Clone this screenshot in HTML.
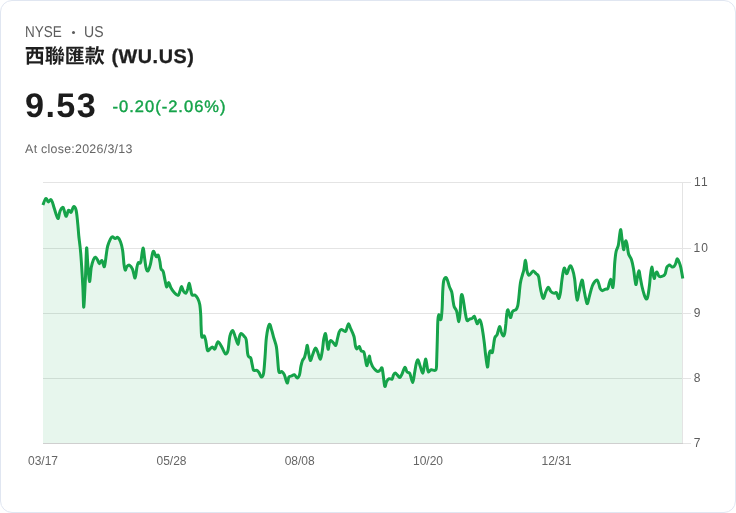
<!DOCTYPE html>
<html lang="zh-Hant">
<head>
<meta charset="utf-8">
<title>西聯匯款 (WU.US)</title>
<style>
  html,body{margin:0;padding:0;background:#fff;}
  body{width:736px;height:513px;overflow:hidden;font-family:"Liberation Sans",sans-serif;text-rendering:geometricPrecision;}
  .card{will-change:transform;position:absolute;left:0;top:0;width:734px;height:511px;border:1px solid #e0e6f1;border-radius:12px;background:#fff;overflow:hidden;}
  .abs{position:absolute;white-space:nowrap;line-height:1;}
  .market{top:23.7px;font-size:15.7px;color:#5c5c5c;transform-origin:0 0;}
  .dot{left:70.6px;top:29.6px;width:3.6px;height:3.6px;border-radius:50%;background:#5c5c5c;font-size:0;overflow:hidden;}
  .title{left:23.8px;top:43.8px;height:24px;font-size:20px;font-weight:700;color:#1f1f1f;}
  .title .cjk{position:relative;display:inline-block;width:80px;height:24px;vertical-align:top;overflow:hidden;}
  .title .cjk span{position:absolute;left:0;top:0;color:#1f1f1f;font-family:"Liberation Sans","Noto Sans CJK TC",sans-serif;font-weight:700;font-size:20px;line-height:24px;}
  .title .sym{display:inline-block;vertical-align:top;line-height:24px;margin-left:6.6px;letter-spacing:0.56px;font-size:19.8px;position:relative;top:0.4px;-webkit-text-stroke:0.3px #1f1f1f;}
  .price{left:24.1px;top:87.9px;font-size:34.2px;font-weight:700;color:#1c1c1c;letter-spacing:1.35px;}
  .chg{left:111.6px;top:97.6px;font-size:16.5px;color:#16a34a;letter-spacing:1.0px;-webkit-text-stroke:0.4px #16a34a;}
  .asof{left:24.1px;top:141.6px;font-size:12.4px;color:#666;letter-spacing:0.27px;}
  .yl{left:692.8px;font-size:12px;color:#5c5c5c;text-rendering:auto;letter-spacing:0.33px;}
  .xl{top:454px;width:60px;text-align:center;font-size:12px;color:#666;text-rendering:auto;letter-spacing:0;}
</style>
</head>
<body>
<div class="card">
  <div class="abs market" style="left:23.8px;transform:scaleX(0.86)">NYSE</div><div class="abs dot">•</div><div class="abs market" style="left:82.7px;transform:scaleX(0.895)">US</div>
  <div class="abs title"><span class="cjk"><span>西聯匯款 </span></span><span class="sym">(WU.US)</span></div>
  <div class="abs price">9.53</div>
  <div class="abs chg">-0.20(-2.06%)</div>
  <div class="abs asof">At close:2026/3/13</div>

  <svg class="abs" style="left:-1px;top:-1px" width="736" height="513" viewBox="0 0 736 513" aria-hidden="true">
    <g stroke="#e4e4e4" stroke-width="1" fill="none" shape-rendering="crispEdges">
      <line x1="43" y1="182.5" x2="690.5" y2="182.5"/>
      <line x1="43" y1="248.5" x2="690.5" y2="248.5"/>
      <line x1="43" y1="313.5" x2="690.5" y2="313.5"/>
      <line x1="43" y1="378.5" x2="690.5" y2="378.5"/>
    </g>
    <path d="M43 443.5L43 205.0L42.9 205.0C43.4 203.9 44.9 199.0 45.8 198.5C46.7 198.0 47.4 201.7 48.2 201.9C49.0 202.1 50.1 199.4 50.8 199.5C51.5 199.6 51.9 200.9 52.5 202.5C53.1 204.1 53.5 206.1 54.4 208.8C55.3 211.5 57.0 218.1 57.9 218.5C58.8 218.9 59.1 213.1 60.0 211.3C60.9 209.5 62.1 206.7 63.1 207.5C64.1 208.3 65.1 215.8 66.0 216.3C66.9 216.8 67.6 211.0 68.5 210.3C69.4 209.6 70.4 212.9 71.2 212.3C72.0 211.7 72.7 207.0 73.5 206.7C74.3 206.4 75.4 207.1 76.2 210.6C77.0 214.1 77.7 223.3 78.1 227.5C78.5 231.7 78.4 231.8 78.8 236.0C79.2 240.2 80.0 244.7 80.7 253.0C81.4 261.3 82.3 276.8 82.8 285.8C83.3 294.8 83.4 308.3 83.8 307.1C84.2 305.9 84.9 288.5 85.4 278.7C85.9 268.9 86.2 250.5 86.6 248.1C87.0 245.7 87.3 258.8 87.8 264.4C88.3 270.0 88.9 281.0 89.5 281.5C90.1 282.0 90.6 271.0 91.3 267.3C92.0 263.6 92.8 261.2 93.5 259.5C94.2 257.8 94.9 257.2 95.6 257.3C96.3 257.4 97.1 259.1 97.7 260.2C98.3 261.3 98.7 263.6 99.4 263.7C100.1 263.8 101.2 260.0 102.0 260.5C102.8 261.0 103.7 267.6 104.4 266.6C105.1 265.6 105.8 257.9 106.3 254.5C106.8 251.1 107.0 248.6 107.7 246.0C108.4 243.4 109.7 240.4 110.5 238.8C111.3 237.2 111.6 236.7 112.4 236.7C113.2 236.7 114.3 238.5 115.2 238.6C116.1 238.7 116.7 236.9 117.6 237.4C118.5 237.9 119.7 239.6 120.5 241.7C121.3 243.8 122.0 246.4 122.6 250.2C123.2 254.0 123.6 261.1 124.0 264.4C124.4 267.7 124.7 269.7 125.2 270.1C125.7 270.5 126.2 267.4 126.9 266.6C127.6 265.8 128.6 264.7 129.5 265.2C130.4 265.7 131.7 267.3 132.6 269.4C133.5 271.5 134.4 278.4 135.1 278.0C135.8 277.6 136.4 269.9 136.9 267.3C137.4 264.8 137.7 263.5 138.3 262.7C138.9 261.9 139.9 264.7 140.7 262.3C141.5 259.9 142.3 248.7 143.0 248.1C143.7 247.5 144.2 255.5 144.7 258.8C145.2 262.1 145.5 266.0 146.1 268.0C146.7 270.0 147.3 271.5 148.0 270.9C148.7 270.3 149.5 267.6 150.4 264.4C151.3 261.1 152.2 252.7 153.2 251.4C154.1 250.1 155.3 256.0 156.1 256.6C156.9 257.2 157.6 254.4 158.2 255.2C158.8 256.0 159.4 259.4 159.9 261.6C160.4 263.9 160.4 267.0 161.0 268.7C161.6 270.4 162.5 269.7 163.2 271.6C163.9 273.5 164.4 277.6 165.0 280.1C165.6 282.7 166.0 286.5 166.6 286.9C167.2 287.3 168.0 282.2 168.7 282.4C169.4 282.5 170.0 286.1 170.9 287.8C171.8 289.5 173.0 291.3 174.2 292.6C175.4 293.9 177.2 295.6 178.2 295.4C179.1 295.2 179.3 292.7 179.9 291.2C180.5 289.7 181.0 286.5 181.6 286.5C182.2 286.5 182.8 290.1 183.5 291.2C184.2 292.3 185.2 293.7 185.9 293.3C186.6 292.9 187.1 290.7 187.7 289.0C188.2 287.3 188.7 283.3 189.2 283.3C189.7 283.3 190.1 287.1 190.6 289.0C191.1 290.9 191.3 294.0 192.0 295.0C192.7 296.0 194.0 294.4 194.9 295.0C195.8 295.6 196.9 296.7 197.7 298.3C198.5 299.9 199.3 301.7 199.8 304.7C200.3 307.7 200.6 312.5 200.8 316.1C201.0 319.7 200.9 322.7 201.1 326.2C201.3 329.7 201.3 335.3 201.8 336.9C202.3 338.5 203.5 335.3 204.2 335.9C204.8 336.5 205.1 338.0 205.7 340.4C206.2 342.8 206.8 349.0 207.5 350.4C208.2 351.8 209.1 349.6 209.9 349.0C210.7 348.4 211.6 346.9 212.4 346.9C213.2 346.9 214.0 349.8 214.9 349.0C215.8 348.2 216.7 342.4 217.8 341.9C218.9 341.4 220.4 344.7 221.3 346.1C222.2 347.5 222.7 349.1 223.4 350.4C224.1 351.7 224.8 354.0 225.6 354.0C226.4 354.0 227.3 353.4 228.0 350.4C228.7 347.4 229.1 339.5 229.9 336.2C230.7 332.9 231.8 330.3 232.7 330.5C233.6 330.7 234.6 335.3 235.5 337.6C236.4 339.9 237.3 344.5 238.0 344.4C238.7 344.3 238.9 338.7 239.4 336.9C239.9 335.1 240.4 333.7 241.2 333.6C242.0 333.5 243.3 335.2 244.1 336.2C244.9 337.2 245.6 336.8 246.2 339.7C246.8 342.6 247.2 350.4 247.6 353.3C248.0 356.2 248.3 356.0 248.8 356.8C249.3 357.6 250.2 356.9 250.8 358.2C251.4 359.5 251.7 362.6 252.2 364.6C252.7 366.6 252.8 369.4 253.6 370.3C254.4 371.2 256.0 369.9 256.9 370.3C257.8 370.7 258.2 371.4 259.0 372.5C259.8 373.6 260.6 377.0 261.4 377.1C262.2 377.2 263.0 376.5 263.6 373.2C264.2 369.9 264.5 363.4 265.0 357.5C265.5 351.6 265.7 343.1 266.4 337.6C267.1 332.1 268.4 325.7 269.3 324.5C270.2 323.3 271.0 328.2 271.8 330.5C272.6 332.8 273.1 335.6 273.9 338.3C274.7 341.0 275.8 343.7 276.4 346.9C277.0 350.1 277.1 353.4 277.5 357.5C277.9 361.6 278.2 369.4 278.9 371.7C279.6 374.0 280.9 371.0 281.8 371.5C282.7 372.0 283.4 372.7 284.3 374.6C285.2 376.5 286.4 382.6 287.2 383.0C288.0 383.4 288.2 378.2 288.9 377.0C289.6 375.8 290.6 376.4 291.5 376.0C292.4 375.6 293.4 374.5 294.4 374.8C295.4 375.1 296.4 378.0 297.3 378.0C298.2 378.0 298.9 376.8 299.5 374.9C300.1 373.0 300.4 368.8 300.9 366.4C301.4 364.0 301.8 362.2 302.4 360.7C303.0 359.1 304.0 358.8 304.6 357.1C305.2 355.4 305.7 352.7 306.1 350.7C306.6 348.7 306.9 345.1 307.3 345.3C307.7 345.5 308.0 349.6 308.5 352.1C309.0 354.6 309.7 359.8 310.3 360.4C310.9 361.0 311.5 357.7 312.3 355.7C313.1 353.7 314.4 348.8 315.3 348.2C316.2 347.6 316.9 350.2 317.7 352.1C318.5 354.0 319.5 359.5 320.3 359.3C321.1 359.1 321.7 354.0 322.3 350.7C322.9 347.4 323.2 342.1 323.7 339.3C324.2 336.5 325.0 333.4 325.5 333.6C326.0 333.9 326.3 338.2 326.7 340.8C327.1 343.4 327.7 349.0 328.1 349.3C328.6 349.6 328.9 344.4 329.4 342.9C329.8 341.4 330.1 340.5 330.8 340.5C331.5 340.5 332.6 342.1 333.4 342.9C334.2 343.7 335.1 345.9 335.8 345.3C336.5 344.7 336.8 341.5 337.3 339.3C337.9 337.1 338.5 333.9 339.1 332.2C339.8 330.5 340.1 329.5 341.2 329.4C342.3 329.3 344.6 331.7 345.5 331.5C346.4 331.3 346.4 329.3 346.9 328.0C347.4 326.7 348.0 323.7 348.6 323.7C349.2 323.7 349.5 325.9 350.4 328.0C351.3 330.1 353.2 333.6 354.0 336.5C354.8 339.4 354.9 343.6 355.4 345.7C355.9 347.8 356.1 348.9 356.8 349.0C357.5 349.1 358.6 346.1 359.3 346.4C360.0 346.7 360.3 349.8 361.1 350.7C361.9 351.6 363.2 350.7 363.9 352.1C364.6 353.5 364.9 357.0 365.4 359.3C365.9 361.6 366.3 365.5 366.8 365.7C367.3 365.9 367.8 362.3 368.2 360.7C368.6 359.1 369.0 356.1 369.4 356.1C369.8 356.1 369.8 359.0 370.3 360.7C370.8 362.4 371.7 364.9 372.5 366.4C373.3 367.9 374.4 369.0 375.3 369.9C376.2 370.8 376.9 371.5 377.7 371.5C378.5 371.5 379.6 370.5 380.3 369.9C381.0 369.3 381.5 367.0 382.0 367.8C382.5 368.6 382.7 371.8 383.2 374.9C383.7 378.0 384.2 385.1 384.8 386.3C385.4 387.5 385.8 383.1 386.5 381.8C387.2 380.5 388.2 379.1 389.1 378.7C390.0 378.2 391.4 379.8 392.1 379.1C392.8 378.5 393.0 375.8 393.5 374.8C394.0 373.8 394.5 373.0 395.2 373.1C395.9 373.2 397.0 374.8 397.8 375.5C398.6 376.2 399.2 377.8 399.9 377.6C400.6 377.4 401.2 375.8 402.0 374.1C402.8 372.4 404.1 367.8 404.9 367.4C405.7 367.0 406.2 370.9 407.0 371.9C407.8 372.9 408.9 371.8 409.9 373.6C410.8 375.4 411.9 382.6 412.7 382.6C413.5 382.6 413.9 376.6 414.5 373.4C415.1 370.2 415.7 365.6 416.3 363.4C416.9 361.1 417.5 359.4 418.1 359.9C418.8 360.4 419.4 364.1 420.2 366.3C421.0 368.5 422.2 373.4 422.9 373.1C423.6 372.9 423.9 367.1 424.4 364.8C424.9 362.5 425.4 358.9 425.8 359.1C426.2 359.4 426.7 364.2 427.1 366.3C427.5 368.4 427.6 371.3 428.3 371.9C429.0 372.5 429.9 370.1 431.2 369.8C432.5 369.5 435.0 371.4 435.9 369.8C436.8 368.2 436.5 365.0 436.7 360.0C436.9 355.0 437.1 346.7 437.3 340.0C437.5 333.3 437.6 324.2 437.9 320.0C438.1 315.8 438.3 314.7 438.8 314.6C439.3 314.5 440.3 320.6 440.9 319.6C441.4 318.7 441.8 313.8 442.1 308.9C442.4 304.0 442.5 295.1 442.8 290.4C443.1 285.7 443.2 282.6 443.8 280.5C444.4 278.4 445.4 277.5 446.1 277.6C446.8 277.7 447.2 279.6 447.8 281.2C448.4 282.8 448.9 285.1 449.5 286.9C450.1 288.7 451.1 289.6 451.7 291.9C452.3 294.1 452.6 297.9 453.0 300.4C453.4 302.9 453.6 305.0 454.2 306.8C454.8 308.6 455.8 308.6 456.6 311.1C457.4 313.6 458.3 321.8 458.9 321.6C459.5 321.4 459.9 314.0 460.3 310.0C460.7 306.0 460.7 300.2 461.0 297.6C461.3 295.1 461.6 294.2 462.0 294.7C462.4 295.2 462.9 297.5 463.4 300.4C463.9 303.2 464.5 308.5 465.1 311.8C465.7 315.1 466.2 319.1 467.0 320.3C467.8 321.5 468.9 319.3 469.8 319.0C470.7 318.7 471.4 318.8 472.2 318.3C472.9 317.8 473.7 315.9 474.3 316.2C474.9 316.5 475.4 319.1 475.9 320.4C476.4 321.7 476.7 323.9 477.3 323.8C477.9 323.7 478.9 319.7 479.6 319.7C480.3 319.7 480.9 321.9 481.4 324.0C481.9 326.1 482.3 329.0 482.8 332.0C483.3 335.0 483.7 338.2 484.2 342.0C484.7 345.8 485.1 350.7 485.6 354.8C486.1 358.9 486.9 365.9 487.4 366.9C487.9 367.8 488.1 362.9 488.4 360.5C488.7 358.1 489.0 354.3 489.4 352.7C489.8 351.1 490.1 350.8 490.6 350.8C491.1 350.8 491.8 353.4 492.3 352.7C492.8 351.9 493.0 348.8 493.4 346.3C493.8 343.8 494.2 339.6 494.8 337.7C495.4 335.8 496.4 336.2 497.0 334.9C497.6 333.6 497.9 331.3 498.4 329.9C498.9 328.5 499.4 326.2 499.9 326.6C500.4 327.0 500.8 330.4 501.3 332.0C501.9 333.6 502.6 335.9 503.2 336.0C503.8 336.1 504.4 334.8 504.8 332.7C505.2 330.6 505.5 326.8 505.9 323.5C506.2 320.2 506.5 315.3 506.9 313.0C507.2 310.7 507.6 309.6 508.0 309.8C508.4 310.1 508.9 313.2 509.3 314.5C509.8 315.8 510.2 317.9 510.7 317.5C511.2 317.1 511.7 313.2 512.3 312.0C512.8 310.8 513.4 310.8 514.0 310.4C514.6 310.0 515.5 310.2 516.1 309.5C516.7 308.8 517.2 308.0 517.7 305.9C518.2 303.8 518.5 300.8 518.9 297.0C519.3 293.2 519.8 286.7 520.4 283.0C521.0 279.3 521.8 277.2 522.4 275.0C523.0 272.8 523.3 272.4 523.8 270.0C524.3 267.6 525.0 260.2 525.5 260.3C526.0 260.4 526.4 267.8 526.9 270.3C527.4 272.8 528.1 274.8 528.8 275.2C529.5 275.6 530.5 273.7 531.2 273.0C532.0 272.3 532.5 270.8 533.3 270.9C534.1 271.0 535.3 272.8 536.2 273.7C537.1 274.6 538.0 274.6 538.6 276.6C539.2 278.6 539.5 282.7 540.0 285.8C540.5 288.9 541.3 293.0 541.9 295.1C542.5 297.2 543.0 298.8 543.6 298.3C544.2 297.8 544.9 294.1 545.7 292.2C546.5 290.3 547.5 287.4 548.3 287.2C549.1 287.0 549.7 289.9 550.4 290.8C551.1 291.7 551.8 292.3 552.5 292.7C553.2 293.1 554.0 293.2 554.7 293.2C555.4 293.2 555.8 291.8 556.5 292.7C557.2 293.6 558.2 298.8 558.9 298.6C559.6 298.4 560.1 294.8 560.6 291.5C561.1 288.2 561.5 282.6 562.1 278.7C562.7 274.8 563.4 268.8 564.2 268.0C565.0 267.2 565.8 274.1 566.8 273.7C567.8 273.3 568.9 266.6 569.9 265.9C570.9 265.2 571.7 267.4 572.5 269.5C573.3 271.6 574.0 274.8 574.6 278.7C575.2 282.6 575.5 289.3 576.0 292.9C576.5 296.5 576.9 300.3 577.4 300.1C577.9 299.9 578.3 294.8 579.1 291.5C579.9 288.2 581.2 280.6 582.0 280.1C582.8 279.6 583.2 285.6 583.8 288.7C584.4 291.8 585.1 296.1 585.7 298.6C586.3 301.1 586.8 304.1 587.4 303.6C588.0 303.1 588.7 298.8 589.5 295.8C590.3 292.8 591.5 288.2 592.4 285.8C593.3 283.4 594.0 282.6 594.8 281.6C595.6 280.7 596.4 279.8 597.1 280.1C597.8 280.5 598.3 282.3 598.8 283.7C599.3 285.1 599.6 287.5 600.2 288.7C600.8 289.9 601.4 290.6 602.3 290.7C603.2 290.8 604.6 289.4 605.5 289.1C606.4 288.8 607.2 289.6 607.8 288.7C608.4 287.8 608.7 285.1 609.2 283.5C609.7 281.9 610.3 279.2 610.7 279.3C611.1 279.4 611.4 282.7 611.8 284.0C612.2 285.3 612.5 288.2 612.9 287.3C613.2 286.4 613.6 282.6 613.9 278.4C614.2 274.2 614.4 266.5 614.8 262.0C615.2 257.5 615.5 254.3 616.1 251.5C616.7 248.7 617.7 248.0 618.3 245.3C618.9 242.6 619.2 238.0 619.6 235.4C620.0 232.8 620.4 229.2 620.8 229.7C621.2 230.2 621.4 234.9 621.9 238.2C622.4 241.5 623.1 248.6 623.6 249.6C624.1 250.6 624.3 245.4 624.7 243.9C625.1 242.4 625.6 240.6 626.0 240.8C626.4 241.0 626.8 243.1 627.2 245.3C627.6 247.5 627.9 251.6 628.6 254.0C629.3 256.4 630.7 257.2 631.5 259.7C632.3 262.2 632.9 265.4 633.5 268.8C634.1 272.2 634.6 277.4 635.0 280.0C635.4 282.6 635.7 285.0 636.1 284.5C636.5 284.0 636.9 279.3 637.4 277.0C637.9 274.7 638.4 270.8 638.9 270.7C639.4 270.6 639.6 273.9 640.1 276.5C640.6 279.1 641.3 283.4 642.0 286.5C642.7 289.6 643.6 292.9 644.3 295.0C645.0 297.1 645.7 298.8 646.3 299.0C646.9 299.2 647.4 298.3 647.9 296.0C648.4 293.7 649.1 288.5 649.5 285.0C649.9 281.5 650.1 278.0 650.5 275.0C650.9 272.0 651.4 267.3 651.8 267.1C652.2 266.9 652.7 271.8 653.1 273.7C653.5 275.6 653.9 278.6 654.3 278.6C654.7 278.7 654.9 275.1 655.4 274.0C655.9 272.9 656.5 271.7 657.0 272.0C657.5 272.3 658.1 274.9 658.6 275.7C659.1 276.5 659.5 276.7 660.3 276.7C661.1 276.7 662.6 276.3 663.4 275.8C664.2 275.3 664.7 275.2 665.2 273.8C665.8 272.4 666.2 268.9 666.7 267.6C667.2 266.3 667.7 266.2 668.2 265.8C668.7 265.4 668.9 264.8 669.6 265.0C670.3 265.2 671.5 266.8 672.2 267.0C672.9 267.2 673.4 267.1 674.0 266.5C674.6 265.9 675.3 264.5 675.7 263.5C676.1 262.5 676.3 261.2 676.6 260.4C676.9 259.6 677.0 258.6 677.4 258.9C677.8 259.2 678.6 260.7 679.2 262.2C679.8 263.7 680.3 265.1 680.9 267.8C681.5 270.5 682.5 276.8 682.8 278.6L682.8 443.5Z" fill="#16a34a" fill-opacity="0.1" stroke="none"/>
    <g shape-rendering="crispEdges" stroke-width="1" fill="none"><line x1="682.5" y1="182" x2="682.5" y2="443" stroke="#e4e4e4"/><line x1="683" y1="443.5" x2="690.5" y2="443.5" stroke="#e4e4e4"/><line x1="43" y1="443.5" x2="683" y2="443.5" stroke="#cfcfcf"/></g>
    <path d="M42.9 205.0C43.4 203.9 44.9 199.0 45.8 198.5C46.7 198.0 47.4 201.7 48.2 201.9C49.0 202.1 50.1 199.4 50.8 199.5C51.5 199.6 51.9 200.9 52.5 202.5C53.1 204.1 53.5 206.1 54.4 208.8C55.3 211.5 57.0 218.1 57.9 218.5C58.8 218.9 59.1 213.1 60.0 211.3C60.9 209.5 62.1 206.7 63.1 207.5C64.1 208.3 65.1 215.8 66.0 216.3C66.9 216.8 67.6 211.0 68.5 210.3C69.4 209.6 70.4 212.9 71.2 212.3C72.0 211.7 72.7 207.0 73.5 206.7C74.3 206.4 75.4 207.1 76.2 210.6C77.0 214.1 77.7 223.3 78.1 227.5C78.5 231.7 78.4 231.8 78.8 236.0C79.2 240.2 80.0 244.7 80.7 253.0C81.4 261.3 82.3 276.8 82.8 285.8C83.3 294.8 83.4 308.3 83.8 307.1C84.2 305.9 84.9 288.5 85.4 278.7C85.9 268.9 86.2 250.5 86.6 248.1C87.0 245.7 87.3 258.8 87.8 264.4C88.3 270.0 88.9 281.0 89.5 281.5C90.1 282.0 90.6 271.0 91.3 267.3C92.0 263.6 92.8 261.2 93.5 259.5C94.2 257.8 94.9 257.2 95.6 257.3C96.3 257.4 97.1 259.1 97.7 260.2C98.3 261.3 98.7 263.6 99.4 263.7C100.1 263.8 101.2 260.0 102.0 260.5C102.8 261.0 103.7 267.6 104.4 266.6C105.1 265.6 105.8 257.9 106.3 254.5C106.8 251.1 107.0 248.6 107.7 246.0C108.4 243.4 109.7 240.4 110.5 238.8C111.3 237.2 111.6 236.7 112.4 236.7C113.2 236.7 114.3 238.5 115.2 238.6C116.1 238.7 116.7 236.9 117.6 237.4C118.5 237.9 119.7 239.6 120.5 241.7C121.3 243.8 122.0 246.4 122.6 250.2C123.2 254.0 123.6 261.1 124.0 264.4C124.4 267.7 124.7 269.7 125.2 270.1C125.7 270.5 126.2 267.4 126.9 266.6C127.6 265.8 128.6 264.7 129.5 265.2C130.4 265.7 131.7 267.3 132.6 269.4C133.5 271.5 134.4 278.4 135.1 278.0C135.8 277.6 136.4 269.9 136.9 267.3C137.4 264.8 137.7 263.5 138.3 262.7C138.9 261.9 139.9 264.7 140.7 262.3C141.5 259.9 142.3 248.7 143.0 248.1C143.7 247.5 144.2 255.5 144.7 258.8C145.2 262.1 145.5 266.0 146.1 268.0C146.7 270.0 147.3 271.5 148.0 270.9C148.7 270.3 149.5 267.6 150.4 264.4C151.3 261.1 152.2 252.7 153.2 251.4C154.1 250.1 155.3 256.0 156.1 256.6C156.9 257.2 157.6 254.4 158.2 255.2C158.8 256.0 159.4 259.4 159.9 261.6C160.4 263.9 160.4 267.0 161.0 268.7C161.6 270.4 162.5 269.7 163.2 271.6C163.9 273.5 164.4 277.6 165.0 280.1C165.6 282.7 166.0 286.5 166.6 286.9C167.2 287.3 168.0 282.2 168.7 282.4C169.4 282.5 170.0 286.1 170.9 287.8C171.8 289.5 173.0 291.3 174.2 292.6C175.4 293.9 177.2 295.6 178.2 295.4C179.1 295.2 179.3 292.7 179.9 291.2C180.5 289.7 181.0 286.5 181.6 286.5C182.2 286.5 182.8 290.1 183.5 291.2C184.2 292.3 185.2 293.7 185.9 293.3C186.6 292.9 187.1 290.7 187.7 289.0C188.2 287.3 188.7 283.3 189.2 283.3C189.7 283.3 190.1 287.1 190.6 289.0C191.1 290.9 191.3 294.0 192.0 295.0C192.7 296.0 194.0 294.4 194.9 295.0C195.8 295.6 196.9 296.7 197.7 298.3C198.5 299.9 199.3 301.7 199.8 304.7C200.3 307.7 200.6 312.5 200.8 316.1C201.0 319.7 200.9 322.7 201.1 326.2C201.3 329.7 201.3 335.3 201.8 336.9C202.3 338.5 203.5 335.3 204.2 335.9C204.8 336.5 205.1 338.0 205.7 340.4C206.2 342.8 206.8 349.0 207.5 350.4C208.2 351.8 209.1 349.6 209.9 349.0C210.7 348.4 211.6 346.9 212.4 346.9C213.2 346.9 214.0 349.8 214.9 349.0C215.8 348.2 216.7 342.4 217.8 341.9C218.9 341.4 220.4 344.7 221.3 346.1C222.2 347.5 222.7 349.1 223.4 350.4C224.1 351.7 224.8 354.0 225.6 354.0C226.4 354.0 227.3 353.4 228.0 350.4C228.7 347.4 229.1 339.5 229.9 336.2C230.7 332.9 231.8 330.3 232.7 330.5C233.6 330.7 234.6 335.3 235.5 337.6C236.4 339.9 237.3 344.5 238.0 344.4C238.7 344.3 238.9 338.7 239.4 336.9C239.9 335.1 240.4 333.7 241.2 333.6C242.0 333.5 243.3 335.2 244.1 336.2C244.9 337.2 245.6 336.8 246.2 339.7C246.8 342.6 247.2 350.4 247.6 353.3C248.0 356.2 248.3 356.0 248.8 356.8C249.3 357.6 250.2 356.9 250.8 358.2C251.4 359.5 251.7 362.6 252.2 364.6C252.7 366.6 252.8 369.4 253.6 370.3C254.4 371.2 256.0 369.9 256.9 370.3C257.8 370.7 258.2 371.4 259.0 372.5C259.8 373.6 260.6 377.0 261.4 377.1C262.2 377.2 263.0 376.5 263.6 373.2C264.2 369.9 264.5 363.4 265.0 357.5C265.5 351.6 265.7 343.1 266.4 337.6C267.1 332.1 268.4 325.7 269.3 324.5C270.2 323.3 271.0 328.2 271.8 330.5C272.6 332.8 273.1 335.6 273.9 338.3C274.7 341.0 275.8 343.7 276.4 346.9C277.0 350.1 277.1 353.4 277.5 357.5C277.9 361.6 278.2 369.4 278.9 371.7C279.6 374.0 280.9 371.0 281.8 371.5C282.7 372.0 283.4 372.7 284.3 374.6C285.2 376.5 286.4 382.6 287.2 383.0C288.0 383.4 288.2 378.2 288.9 377.0C289.6 375.8 290.6 376.4 291.5 376.0C292.4 375.6 293.4 374.5 294.4 374.8C295.4 375.1 296.4 378.0 297.3 378.0C298.2 378.0 298.9 376.8 299.5 374.9C300.1 373.0 300.4 368.8 300.9 366.4C301.4 364.0 301.8 362.2 302.4 360.7C303.0 359.1 304.0 358.8 304.6 357.1C305.2 355.4 305.7 352.7 306.1 350.7C306.6 348.7 306.9 345.1 307.3 345.3C307.7 345.5 308.0 349.6 308.5 352.1C309.0 354.6 309.7 359.8 310.3 360.4C310.9 361.0 311.5 357.7 312.3 355.7C313.1 353.7 314.4 348.8 315.3 348.2C316.2 347.6 316.9 350.2 317.7 352.1C318.5 354.0 319.5 359.5 320.3 359.3C321.1 359.1 321.7 354.0 322.3 350.7C322.9 347.4 323.2 342.1 323.7 339.3C324.2 336.5 325.0 333.4 325.5 333.6C326.0 333.9 326.3 338.2 326.7 340.8C327.1 343.4 327.7 349.0 328.1 349.3C328.6 349.6 328.9 344.4 329.4 342.9C329.8 341.4 330.1 340.5 330.8 340.5C331.5 340.5 332.6 342.1 333.4 342.9C334.2 343.7 335.1 345.9 335.8 345.3C336.5 344.7 336.8 341.5 337.3 339.3C337.9 337.1 338.5 333.9 339.1 332.2C339.8 330.5 340.1 329.5 341.2 329.4C342.3 329.3 344.6 331.7 345.5 331.5C346.4 331.3 346.4 329.3 346.9 328.0C347.4 326.7 348.0 323.7 348.6 323.7C349.2 323.7 349.5 325.9 350.4 328.0C351.3 330.1 353.2 333.6 354.0 336.5C354.8 339.4 354.9 343.6 355.4 345.7C355.9 347.8 356.1 348.9 356.8 349.0C357.5 349.1 358.6 346.1 359.3 346.4C360.0 346.7 360.3 349.8 361.1 350.7C361.9 351.6 363.2 350.7 363.9 352.1C364.6 353.5 364.9 357.0 365.4 359.3C365.9 361.6 366.3 365.5 366.8 365.7C367.3 365.9 367.8 362.3 368.2 360.7C368.6 359.1 369.0 356.1 369.4 356.1C369.8 356.1 369.8 359.0 370.3 360.7C370.8 362.4 371.7 364.9 372.5 366.4C373.3 367.9 374.4 369.0 375.3 369.9C376.2 370.8 376.9 371.5 377.7 371.5C378.5 371.5 379.6 370.5 380.3 369.9C381.0 369.3 381.5 367.0 382.0 367.8C382.5 368.6 382.7 371.8 383.2 374.9C383.7 378.0 384.2 385.1 384.8 386.3C385.4 387.5 385.8 383.1 386.5 381.8C387.2 380.5 388.2 379.1 389.1 378.7C390.0 378.2 391.4 379.8 392.1 379.1C392.8 378.5 393.0 375.8 393.5 374.8C394.0 373.8 394.5 373.0 395.2 373.1C395.9 373.2 397.0 374.8 397.8 375.5C398.6 376.2 399.2 377.8 399.9 377.6C400.6 377.4 401.2 375.8 402.0 374.1C402.8 372.4 404.1 367.8 404.9 367.4C405.7 367.0 406.2 370.9 407.0 371.9C407.8 372.9 408.9 371.8 409.9 373.6C410.8 375.4 411.9 382.6 412.7 382.6C413.5 382.6 413.9 376.6 414.5 373.4C415.1 370.2 415.7 365.6 416.3 363.4C416.9 361.1 417.5 359.4 418.1 359.9C418.8 360.4 419.4 364.1 420.2 366.3C421.0 368.5 422.2 373.4 422.9 373.1C423.6 372.9 423.9 367.1 424.4 364.8C424.9 362.5 425.4 358.9 425.8 359.1C426.2 359.4 426.7 364.2 427.1 366.3C427.5 368.4 427.6 371.3 428.3 371.9C429.0 372.5 429.9 370.1 431.2 369.8C432.5 369.5 435.0 371.4 435.9 369.8C436.8 368.2 436.5 365.0 436.7 360.0C436.9 355.0 437.1 346.7 437.3 340.0C437.5 333.3 437.6 324.2 437.9 320.0C438.1 315.8 438.3 314.7 438.8 314.6C439.3 314.5 440.3 320.6 440.9 319.6C441.4 318.7 441.8 313.8 442.1 308.9C442.4 304.0 442.5 295.1 442.8 290.4C443.1 285.7 443.2 282.6 443.8 280.5C444.4 278.4 445.4 277.5 446.1 277.6C446.8 277.7 447.2 279.6 447.8 281.2C448.4 282.8 448.9 285.1 449.5 286.9C450.1 288.7 451.1 289.6 451.7 291.9C452.3 294.1 452.6 297.9 453.0 300.4C453.4 302.9 453.6 305.0 454.2 306.8C454.8 308.6 455.8 308.6 456.6 311.1C457.4 313.6 458.3 321.8 458.9 321.6C459.5 321.4 459.9 314.0 460.3 310.0C460.7 306.0 460.7 300.2 461.0 297.6C461.3 295.1 461.6 294.2 462.0 294.7C462.4 295.2 462.9 297.5 463.4 300.4C463.9 303.2 464.5 308.5 465.1 311.8C465.7 315.1 466.2 319.1 467.0 320.3C467.8 321.5 468.9 319.3 469.8 319.0C470.7 318.7 471.4 318.8 472.2 318.3C472.9 317.8 473.7 315.9 474.3 316.2C474.9 316.5 475.4 319.1 475.9 320.4C476.4 321.7 476.7 323.9 477.3 323.8C477.9 323.7 478.9 319.7 479.6 319.7C480.3 319.7 480.9 321.9 481.4 324.0C481.9 326.1 482.3 329.0 482.8 332.0C483.3 335.0 483.7 338.2 484.2 342.0C484.7 345.8 485.1 350.7 485.6 354.8C486.1 358.9 486.9 365.9 487.4 366.9C487.9 367.8 488.1 362.9 488.4 360.5C488.7 358.1 489.0 354.3 489.4 352.7C489.8 351.1 490.1 350.8 490.6 350.8C491.1 350.8 491.8 353.4 492.3 352.7C492.8 351.9 493.0 348.8 493.4 346.3C493.8 343.8 494.2 339.6 494.8 337.7C495.4 335.8 496.4 336.2 497.0 334.9C497.6 333.6 497.9 331.3 498.4 329.9C498.9 328.5 499.4 326.2 499.9 326.6C500.4 327.0 500.8 330.4 501.3 332.0C501.9 333.6 502.6 335.9 503.2 336.0C503.8 336.1 504.4 334.8 504.8 332.7C505.2 330.6 505.5 326.8 505.9 323.5C506.2 320.2 506.5 315.3 506.9 313.0C507.2 310.7 507.6 309.6 508.0 309.8C508.4 310.1 508.9 313.2 509.3 314.5C509.8 315.8 510.2 317.9 510.7 317.5C511.2 317.1 511.7 313.2 512.3 312.0C512.8 310.8 513.4 310.8 514.0 310.4C514.6 310.0 515.5 310.2 516.1 309.5C516.7 308.8 517.2 308.0 517.7 305.9C518.2 303.8 518.5 300.8 518.9 297.0C519.3 293.2 519.8 286.7 520.4 283.0C521.0 279.3 521.8 277.2 522.4 275.0C523.0 272.8 523.3 272.4 523.8 270.0C524.3 267.6 525.0 260.2 525.5 260.3C526.0 260.4 526.4 267.8 526.9 270.3C527.4 272.8 528.1 274.8 528.8 275.2C529.5 275.6 530.5 273.7 531.2 273.0C532.0 272.3 532.5 270.8 533.3 270.9C534.1 271.0 535.3 272.8 536.2 273.7C537.1 274.6 538.0 274.6 538.6 276.6C539.2 278.6 539.5 282.7 540.0 285.8C540.5 288.9 541.3 293.0 541.9 295.1C542.5 297.2 543.0 298.8 543.6 298.3C544.2 297.8 544.9 294.1 545.7 292.2C546.5 290.3 547.5 287.4 548.3 287.2C549.1 287.0 549.7 289.9 550.4 290.8C551.1 291.7 551.8 292.3 552.5 292.7C553.2 293.1 554.0 293.2 554.7 293.2C555.4 293.2 555.8 291.8 556.5 292.7C557.2 293.6 558.2 298.8 558.9 298.6C559.6 298.4 560.1 294.8 560.6 291.5C561.1 288.2 561.5 282.6 562.1 278.7C562.7 274.8 563.4 268.8 564.2 268.0C565.0 267.2 565.8 274.1 566.8 273.7C567.8 273.3 568.9 266.6 569.9 265.9C570.9 265.2 571.7 267.4 572.5 269.5C573.3 271.6 574.0 274.8 574.6 278.7C575.2 282.6 575.5 289.3 576.0 292.9C576.5 296.5 576.9 300.3 577.4 300.1C577.9 299.9 578.3 294.8 579.1 291.5C579.9 288.2 581.2 280.6 582.0 280.1C582.8 279.6 583.2 285.6 583.8 288.7C584.4 291.8 585.1 296.1 585.7 298.6C586.3 301.1 586.8 304.1 587.4 303.6C588.0 303.1 588.7 298.8 589.5 295.8C590.3 292.8 591.5 288.2 592.4 285.8C593.3 283.4 594.0 282.6 594.8 281.6C595.6 280.7 596.4 279.8 597.1 280.1C597.8 280.5 598.3 282.3 598.8 283.7C599.3 285.1 599.6 287.5 600.2 288.7C600.8 289.9 601.4 290.6 602.3 290.7C603.2 290.8 604.6 289.4 605.5 289.1C606.4 288.8 607.2 289.6 607.8 288.7C608.4 287.8 608.7 285.1 609.2 283.5C609.7 281.9 610.3 279.2 610.7 279.3C611.1 279.4 611.4 282.7 611.8 284.0C612.2 285.3 612.5 288.2 612.9 287.3C613.2 286.4 613.6 282.6 613.9 278.4C614.2 274.2 614.4 266.5 614.8 262.0C615.2 257.5 615.5 254.3 616.1 251.5C616.7 248.7 617.7 248.0 618.3 245.3C618.9 242.6 619.2 238.0 619.6 235.4C620.0 232.8 620.4 229.2 620.8 229.7C621.2 230.2 621.4 234.9 621.9 238.2C622.4 241.5 623.1 248.6 623.6 249.6C624.1 250.6 624.3 245.4 624.7 243.9C625.1 242.4 625.6 240.6 626.0 240.8C626.4 241.0 626.8 243.1 627.2 245.3C627.6 247.5 627.9 251.6 628.6 254.0C629.3 256.4 630.7 257.2 631.5 259.7C632.3 262.2 632.9 265.4 633.5 268.8C634.1 272.2 634.6 277.4 635.0 280.0C635.4 282.6 635.7 285.0 636.1 284.5C636.5 284.0 636.9 279.3 637.4 277.0C637.9 274.7 638.4 270.8 638.9 270.7C639.4 270.6 639.6 273.9 640.1 276.5C640.6 279.1 641.3 283.4 642.0 286.5C642.7 289.6 643.6 292.9 644.3 295.0C645.0 297.1 645.7 298.8 646.3 299.0C646.9 299.2 647.4 298.3 647.9 296.0C648.4 293.7 649.1 288.5 649.5 285.0C649.9 281.5 650.1 278.0 650.5 275.0C650.9 272.0 651.4 267.3 651.8 267.1C652.2 266.9 652.7 271.8 653.1 273.7C653.5 275.6 653.9 278.6 654.3 278.6C654.7 278.7 654.9 275.1 655.4 274.0C655.9 272.9 656.5 271.7 657.0 272.0C657.5 272.3 658.1 274.9 658.6 275.7C659.1 276.5 659.5 276.7 660.3 276.7C661.1 276.7 662.6 276.3 663.4 275.8C664.2 275.3 664.7 275.2 665.2 273.8C665.8 272.4 666.2 268.9 666.7 267.6C667.2 266.3 667.7 266.2 668.2 265.8C668.7 265.4 668.9 264.8 669.6 265.0C670.3 265.2 671.5 266.8 672.2 267.0C672.9 267.2 673.4 267.1 674.0 266.5C674.6 265.9 675.3 264.5 675.7 263.5C676.1 262.5 676.3 261.2 676.6 260.4C676.9 259.6 677.0 258.6 677.4 258.9C677.8 259.2 678.6 260.7 679.2 262.2C679.8 263.7 680.3 265.1 680.9 267.8C681.5 270.5 682.5 276.8 682.8 278.6" fill="none" stroke="#16a34a" stroke-width="3" stroke-linejoin="round" stroke-linecap="butt"/>
  </svg>

  <div class="abs yl" style="top:175px;left:693px;letter-spacing:1.33px">11</div>
  <div class="abs yl" style="top:241px;left:692.6px;letter-spacing:1.0px">10</div>
  <div class="abs yl" style="top:306px">9</div>
  <div class="abs yl" style="top:371px">8</div>
  <div class="abs yl" style="top:436px">7</div>

  <div class="abs xl" style="left:12px">03/17</div>
  <div class="abs xl" style="left:140.5px">05/28</div>
  <div class="abs xl" style="left:268.7px">08/08</div>
  <div class="abs xl" style="left:397px">10/20</div>
  <div class="abs xl" style="left:525.5px">12/31</div>
</div>
</body>
</html>
